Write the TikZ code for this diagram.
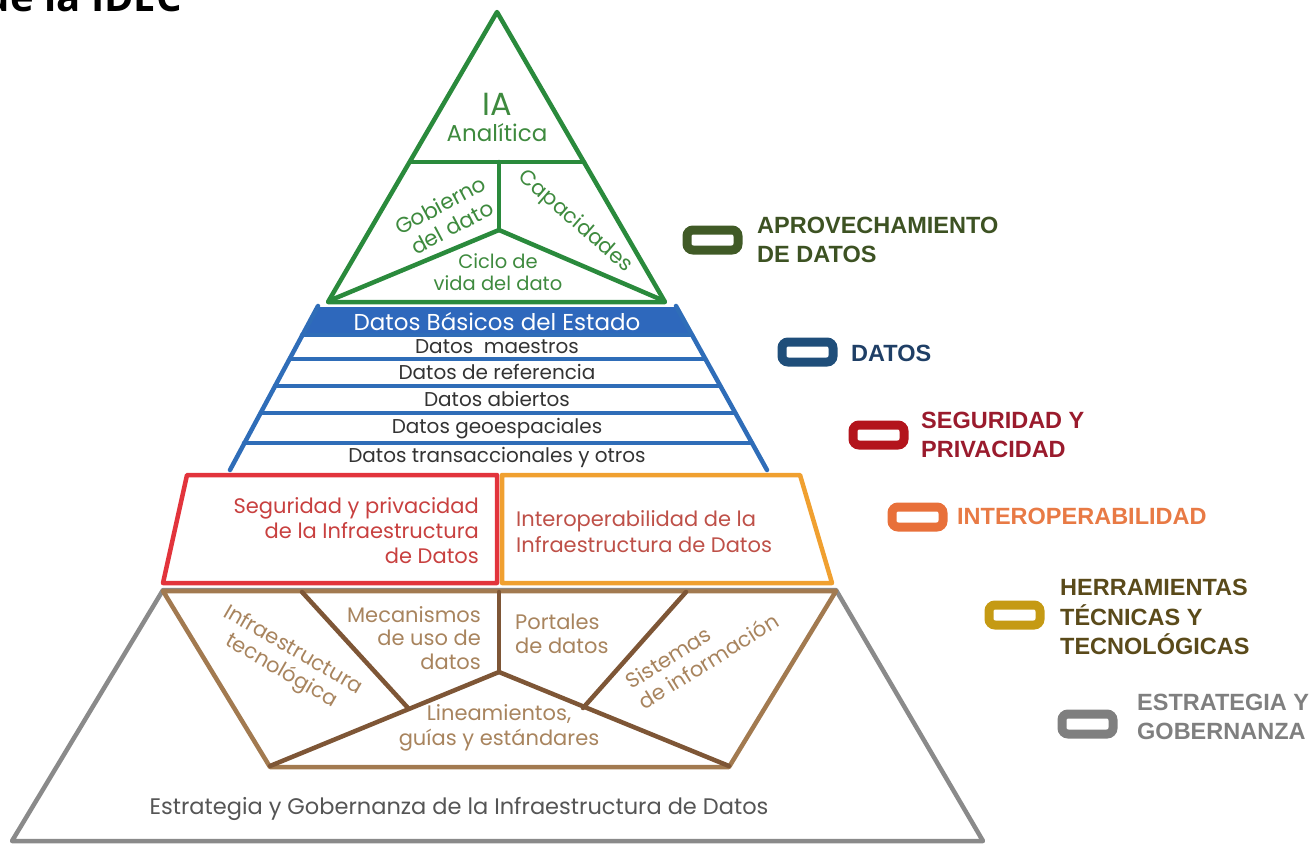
\documentclass[tikz,border=0pt]{standalone}
\usepackage{fontspec}
\setmainfont{Poppins}
\newfontfamily\legfont{Liberation Sans}
\newfontfamily\titlefont{Open Sans}
\definecolor{cgreen}{HTML}{2A8A3C}
\definecolor{cgreentxt}{HTML}{3E8A3E}
\definecolor{cblue}{HTML}{2F6DB8}
\definecolor{cbluefill}{HTML}{2E68BC}
\definecolor{cred}{HTML}{E2343C}
\definecolor{credtxt}{HTML}{C8403F}
\definecolor{corange}{HTML}{F0A030}
\definecolor{cinttxt}{HTML}{BE5048}
\definecolor{cbrown}{HTML}{7E5636}
\definecolor{ctan}{HTML}{A27A50}
\definecolor{cbrowntxt}{HTML}{A8845E}
\definecolor{cgray}{HTML}{8A8A8A}
\definecolor{cgraytxt}{HTML}{555555}
\definecolor{lgreen}{HTML}{405A26}
\definecolor{lgreentxt}{HTML}{3D5223}
\definecolor{lblue}{HTML}{1F4E7A}
\definecolor{lbluetxt}{HTML}{1F3F66}
\definecolor{lred}{HTML}{B3141C}
\definecolor{lredtxt}{HTML}{9A1B2D}
\definecolor{lorange}{HTML}{E8703A}
\definecolor{lorangetxt}{HTML}{E87A45}
\definecolor{lgold}{HTML}{C59A14}
\definecolor{lgoldtxt}{HTML}{5A4A1A}
\definecolor{lgray}{HTML}{7F7F7F}
\tikzset{
  edge/.style={line width=4.5pt, line join=round, line cap=round},
  lab/.style={inner sep=0pt, align=center, font=\fontsize{20}{24}\selectfont},
  brlab/.style={inner sep=0pt, align=center, text=cbrowntxt, font=\fontsize{21}{24}\selectfont},
  legbox/.style={line width=9pt, rounded corners=6pt, fill=white},
  legtxt/.style={anchor=west, inner sep=0pt, align=left, font=\legfont\bfseries\fontsize{23.5}{29.5}\selectfont},
}
\begin{document}
\begin{tikzpicture}[x=1pt,y=-1pt]
\clip (0,0) rectangle (1312,846);
\useasboundingbox (0,0) rectangle (1312,846);
% title (cut off)
\node[anchor=base east, inner sep=0pt, font=\titlefont\bfseries\fontsize{40}{40}\selectfont] (title) at (182,11) {de la IDEC};

% ---------- green triangle ----------
\draw[edge, cgreen] (497,12) -- (665,302) -- (328,302) -- cycle;
\draw[edge, cgreen] (410,162) -- (584,162);
\coordinate (gj) at (499,230);
\draw[edge, cgreen] (499,162) -- (gj);
\draw[edge, cgreen] (331,300) -- (gj) -- (662,300);
\node[lab, cgreentxt, font=\fontsize{32}{34}\selectfont] (ia) at (497,104) {IA};
\node[lab, cgreentxt, font=\fontsize{23}{26}\selectfont] (anal) at (497,133) {Analítica};
\node[lab, cgreentxt, rotate=28, font=\fontsize{21.5}{25}\selectfont] (gob) at (446,216) {Gobierno\\del dato};
\node[lab, cgreentxt, rotate=-41, font=\fontsize{21}{24}\selectfont] (cap) at (575,222) {Capacidades};
\node[lab, cgreentxt, font=\fontsize{19.5}{22}\selectfont] (ciclo) at (498,272) {Ciclo de\\vida del dato};

% ---------- blue data layers ----------
\fill[cbluefill] (318,307) -- (676,307) -- (692,335) -- (302,335) -- cycle;
\draw[edge, cblue] (318,306) -- (230,470);
\draw[edge, cblue] (676,306) -- (767,470);
\draw[edge, cblue] (302,335) -- (692,335);
\draw[edge, cblue] (290,359) -- (705,359);
\draw[edge, cblue] (275,386) -- (720,386);
\draw[edge, cblue] (261,413) -- (735,413);
\draw[edge, cblue] (244,443) -- (752,443);
\node[lab, white, font=\fontsize{23}{26}\selectfont] (dbe) at (497,322) {Datos Básicos del Estado};
\node[lab, black!80] (dm) at (497,347) {Datos\ \ maestros};
\node[lab, black!80] (dr) at (497,372) {Datos de referencia};
\node[lab, black!80] (da) at (497,399) {Datos abiertos};
\node[lab, black!80] (dg) at (497,429) {Datos geoespaciales};
\node[lab, black!80] (dt) at (497,457) {Datos transaccionales y otros};

% ---------- gray strategy ----------
\draw[edge, cgray] (163,590) -- (836,590) -- (983,841) -- (12,841) -- cycle;
\node[lab, cgraytxt, font=\fontsize{22.5}{26}\selectfont] (estr) at (459,809) {Estrategia y Gobernanza de la Infraestructura de Datos};

% ---------- red / orange ----------
\draw[edge, cred] (187,475) -- (497,475) -- (497,583) -- (163,583) -- cycle;
\draw[edge, corange] (502,475) -- (800,475) -- (832,583) -- (502,583) -- cycle;
\node[lab, credtxt, align=right, anchor=east, font=\fontsize{21}{25}\selectfont] (seg) at (479,531) {Seguridad y privacidad\\de la Infraestructura\\de Datos};
\node[lab, cinttxt, align=left, anchor=west, font=\fontsize{21}{26}\selectfont] (inter) at (516,532) {Interoperabilidad de la\\Infraestructura de Datos};

% ---------- brown tools ----------
\draw[edge, ctan] (163,591) -- (836,591) -- (729,767) -- (270,767) -- cycle;
\coordinate (bj) at (499,672);
\draw[edge, cbrown] (499,592) -- (bj);
\draw[edge, cbrown] (270,766) -- (bj) -- (729,766);
\draw[edge, cbrown] (302,592) -- (408,708);
\draw[edge, cbrown] (686,592) -- (583,708);
\node[brlab, rotate=-30] (infra) at (287,661) {Infraestructura\\tecnológica};
\node[brlab, align=right, anchor=east, font=\fontsize{21}{23.5}\selectfont] (mec) at (481,638) {Mecanismos\\de uso de\\datos};
\node[brlab, align=left, anchor=west, font=\fontsize{21}{23.5}\selectfont] (port) at (515,634) {Portales\\de datos};
\node[brlab, rotate=32, align=left] (sis) at (702,651) {Sistemas\\de información};
\node[brlab, font=\fontsize{21}{25}\selectfont] (lin) at (499,728) {Lineamientos,\\guías y estándares};

% ---------- legend ----------
\draw[legbox, draw=lgreen] (687,230) rectangle (738,250);
\node[legtxt, lgreentxt] (l1) at (757,240) {APROVECHAMIENTO\\DE DATOS};
\draw[legbox, draw=lblue] (782,342) rectangle (833,362);
\node[legtxt, lbluetxt] (l2) at (851,353) {DATOS};
\draw[legbox, draw=lred] (853,425) rectangle (904,445);
\node[legtxt, lredtxt] (l3) at (921,435) {SEGURIDAD Y\\PRIVACIDAD};
\draw[legbox, draw=lorange] (892,507) rectangle (943,527);
\node[legtxt, lorangetxt] (l4) at (957,516) {INTEROPERABILIDAD};
\draw[legbox, draw=lgold] (989,605) rectangle (1040,625);
\node[legtxt, lgoldtxt] (l5) at (1060,617) {HERRAMIENTAS\\TÉCNICAS Y\\TECNOLÓGICAS};
\draw[legbox, draw=lgray] (1062,714) rectangle (1113,734);
\node[legtxt, lgray] (l6) at (1137,717) {ESTRATEGIA Y\\GOBERNANZA};
\end{tikzpicture}
\end{document}
